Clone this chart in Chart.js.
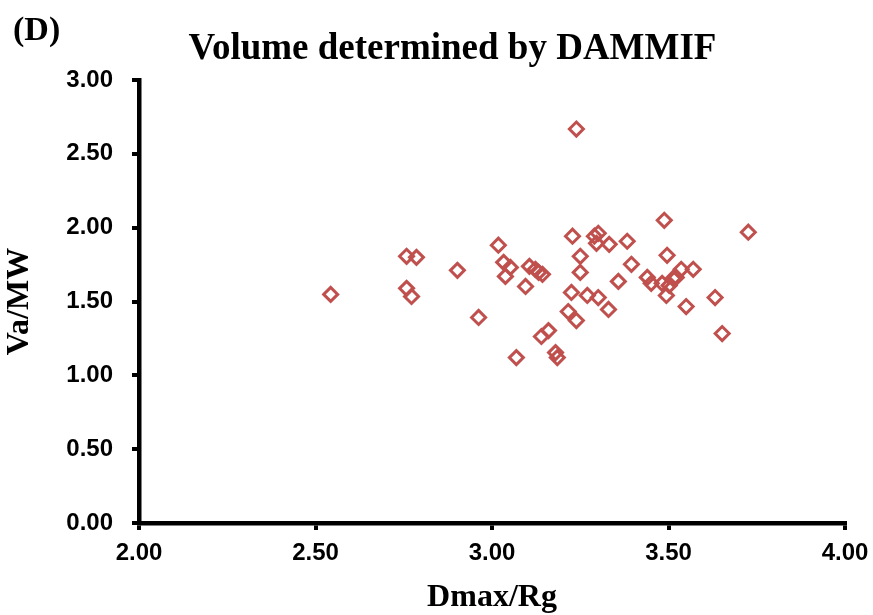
<!DOCTYPE html>
<html>
<head>
<meta charset="utf-8">
<script src="https://cdn.jsdelivr.net/npm/chart.js@4/dist/chart.umd.min.js"></script>
<style>
html,body{margin:0;padding:0;background:#fff;}
#wrap{width:873px;height:615px;position:relative;}
</style>
</head>
<body>
<div id="wrap"><canvas id="c" width="873" height="615"></canvas></div>
<script>
const chartTitle = "Volume determined by DAMMIF";
const panelLabel = "(D)";
const xAxisTitle = "Dmax/Rg";
const yAxisTitle = "Va/MW";
const xTickValues = [2.00, 2.50, 3.00, 3.50, 4.00];
const yTickValues = [0.00, 0.50, 1.00, 1.50, 2.00, 2.50, 3.00];

const dmaxRg = [2.543, 2.758, 2.786, 2.758, 2.772, 2.902, 2.962, 3.018, 3.033, 3.052,
  3.038, 3.069, 3.095, 3.106, 3.123, 3.132, 3.143, 3.140, 3.160, 3.180,
  3.185, 3.239, 3.228, 3.250, 3.250, 3.225, 3.270, 3.216, 3.239, 3.290,
  3.301, 3.296, 3.301, 3.332, 3.330, 3.358, 3.383, 3.395, 3.440, 3.451,
  3.482, 3.502, 3.513, 3.522, 3.494, 3.488, 3.496, 3.536, 3.570, 3.550,
  3.632, 3.652, 3.726];
const vaMw = [1.548, 1.806, 1.799, 1.589, 1.534, 1.711, 1.392, 1.881, 1.765, 1.731,
  1.670, 1.120, 1.602, 1.738, 1.718, 1.697, 1.684, 1.263, 1.303, 1.154,
  1.120, 2.668, 1.942, 1.806, 1.697, 1.561, 1.541, 1.432, 1.371, 1.942,
  1.962, 1.894, 1.527, 1.887, 1.446, 1.636, 1.908, 1.752, 1.663, 1.623,
  1.623, 1.609, 1.656, 1.663, 1.541, 2.050, 1.813, 1.718, 1.718, 1.466,
  1.527, 1.283, 1.969];

const points = dmaxRg.map((x, i) => ({x: x, y: vaMw[i]}));

const panelLabelPlugin = {
  id: 'panelLabel',
  afterDraw(chart) {
    const ctx = chart.ctx;
    ctx.save();
    ctx.font = 'bold 34px "Liberation Serif", "Times New Roman", serif';
    ctx.fillStyle = '#000';
    ctx.textBaseline = 'alphabetic';
    ctx.textAlign = 'left';
    ctx.fillText(panelLabel, 13, 40);
    ctx.restore();
  }
};

new Chart(document.getElementById('c'), {
  type: 'scatter',
  data: {
    datasets: [{
      label: 'Va/MW',
      data: points,
      pointStyle: 'rectRot',
      pointRadius: 7,
      pointHoverRadius: 7,
      pointBorderWidth: 3,
      borderColor: '#C0504D',
      backgroundColor: 'rgba(0,0,0,0)',
      pointBackgroundColor: 'rgba(0,0,0,0)',
      pointBorderColor: '#C0504D'
    }]
  },
  options: {
    responsive: false,
    animation: false,
    layout: {padding: {left: 32, right: 0, top: 0, bottom: 0}},
    plugins: {
      legend: {display: false},
      tooltip: {enabled: false},
      title: {
        display: true,
        text: chartTitle,
        color: '#000',
        font: {family: '"Liberation Serif", "Times New Roman", serif', size: 37, weight: 'bold', lineHeight: 1.0},
        padding: {top: 31, bottom: 12}
      }
    },
    scales: {
      x: {
        type: 'linear',
        min: 2, max: 4,
        afterBuildTicks(scale) { scale.ticks = xTickValues.map(v => ({value: v})); },
        afterFit(scale) { scale.height = 92; scale.paddingRight = 28; },
        border: {display: true, color: '#000', width: 4.5},
        grid: {display: true, drawOnChartArea: false, drawTicks: true, tickLength: 7, color: '#000', lineWidth: 4},
        ticks: {
          color: '#000',
          padding: 9,
          font: {family: '"Liberation Sans", Arial, sans-serif', size: 24, weight: 'bold'},
          callback: v => Number(v).toFixed(2)
        },
        title: {
          display: true,
          text: xAxisTitle,
          color: '#000',
          font: {family: '"Liberation Serif", "Times New Roman", serif', size: 32, weight: 'bold', lineHeight: 1.2},
          padding: {top: 0, bottom: -2}
        }
      },
      y: {
        type: 'linear',
        min: 0, max: 3,
        afterBuildTicks(scale) { scale.ticks = yTickValues.map(v => ({value: v})); },
        afterFit(scale) { scale.width = 107; },
        border: {display: true, color: '#000', width: 4.5},
        grid: {display: true, drawOnChartArea: false, drawTicks: true, tickLength: 7, color: '#000', lineWidth: 4},
        ticks: {
          color: '#000',
          padding: 19,
          font: {family: '"Liberation Sans", Arial, sans-serif', size: 24, weight: 'bold'},
          callback: v => Number(v).toFixed(2)
        },
        title: {
          display: true,
          text: yAxisTitle,
          color: '#000',
          font: {family: '"Liberation Serif", "Times New Roman", serif', size: 32, weight: 'bold', lineHeight: 1.2},
          padding: {top: -31, bottom: 0}
        }
      }
    }
  },
  plugins: [panelLabelPlugin]
});
</script>
</body>
</html>
